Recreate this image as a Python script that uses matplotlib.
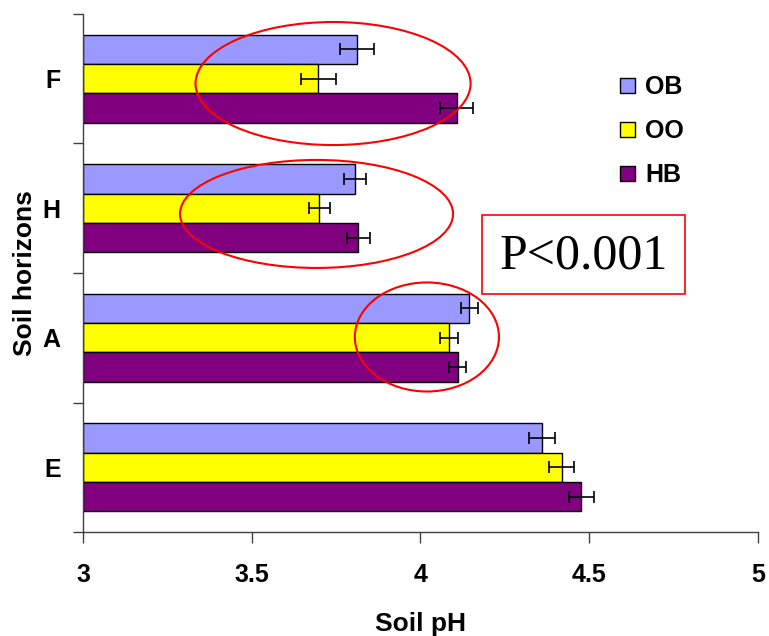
import matplotlib
matplotlib.use('Agg')
import matplotlib.pyplot as plt
from matplotlib.patches import Ellipse, Rectangle, Patch
import numpy as np

plt.rcParams['font.family'] = ['Liberation Sans', 'DejaVu Sans']
plt.rcParams['font.weight'] = 'bold'

# soil horizons, bottom to top
horizons = ['E', 'A', 'H', 'F']
series = ['OB', 'OO', 'HB']
colors = ['#9999FF', '#FFFF00', '#800080']

ob_ph = [4.36, 4.145, 3.807, 3.812]
oo_ph = [4.418, 4.084, 3.70, 3.697]
hb_ph = [4.477, 4.11, 3.816, 4.107]

ob_err = [0.038, 0.026, 0.033, 0.051]
oo_err = [0.036, 0.026, 0.031, 0.052]
hb_err = [0.036, 0.026, 0.033, 0.050]

fig = plt.figure(figsize=(7.69, 6.36), dpi=100)
ax = fig.add_axes([0.1079, 0.1635, 0.8778, 0.8145])

y = np.arange(len(horizons))
h = 0.227
values = [ob_ph, oo_ph, hb_ph]
errs = [ob_err, oo_err, hb_err]
offsets = [h, 0, -h]
for vals, err, off, c, name in zip(values, errs, offsets, colors, series):
    ax.barh(y + off, np.array(vals) - 3, left=3, height=h, color=c,
            edgecolor='black', linewidth=1.0, label=name, zorder=2)
    ax.errorbar(vals, y + off, xerr=err, fmt='none', ecolor='black',
                elinewidth=1.2, capsize=4, capthick=1.2, zorder=3)

ax.set_xlim(3, 5)
ax.set_ylim(-0.5, 3.5)
ax.set_xticks([3, 3.5, 4, 4.5, 5])
ax.set_xticklabels(['3', '3.5', '4', '4.5', '5'])
ax.set_yticks(y)
ax.set_yticklabels(horizons)
ax.set_yticks(np.arange(-0.5, 3.6, 1), minor=True)
ax.tick_params(axis='y', which='major', length=0, pad=16, labelsize=18)
ax.tick_params(axis='y', which='minor', length=7, width=1, color='#404040')
ax.tick_params(axis='x', length=8, width=1, color='#404040', pad=14, labelsize=18)
for s in ['top', 'right']:
    ax.spines[s].set_visible(False)
for s in ['left', 'bottom']:
    ax.spines[s].set_color('#404040')
    ax.spines[s].set_linewidth(1.0)

ax.set_xlabel('Soil pH', fontsize=19, fontweight='bold', labelpad=18)
ax.set_ylabel('Soil horizons', fontsize=19, fontweight='bold', labelpad=4)

# red rings around the upper horizons
for cx, cy, w, hh in [(3.741, 2.963, 0.815, 0.95),
                      (3.692, 1.956, 0.809, 0.834),
                      (4.019, 1.006, 0.427, 0.842)]:
    ax.add_patch(Ellipse((cx, cy), w, hh, fill=False, edgecolor='red',
                         linewidth=1.5, zorder=4, clip_on=False))

# p-value box
fig.patches.append(Rectangle((0.6268, 0.5377), 0.264, 0.1242, transform=fig.transFigure,
                             fill=False, edgecolor='red', linewidth=1.2))
fig.text(0.7588, 0.5965, 'P<0.001', fontsize=36, family='Liberation Serif',
         fontweight='normal', ha='center', va='center')

handles = [Patch(facecolor=c, edgecolor='black', linewidth=1.0) for c in colors]
fig.legend(handles, series, loc='center left', bbox_to_anchor=(0.8065, 0.7935),
           frameon=False, fontsize=18, handlelength=0.6, handleheight=0.6,
           handletextpad=0.4, labelspacing=0.8, borderpad=0, borderaxespad=0)

fig.savefig('out.png', dpi=100)
